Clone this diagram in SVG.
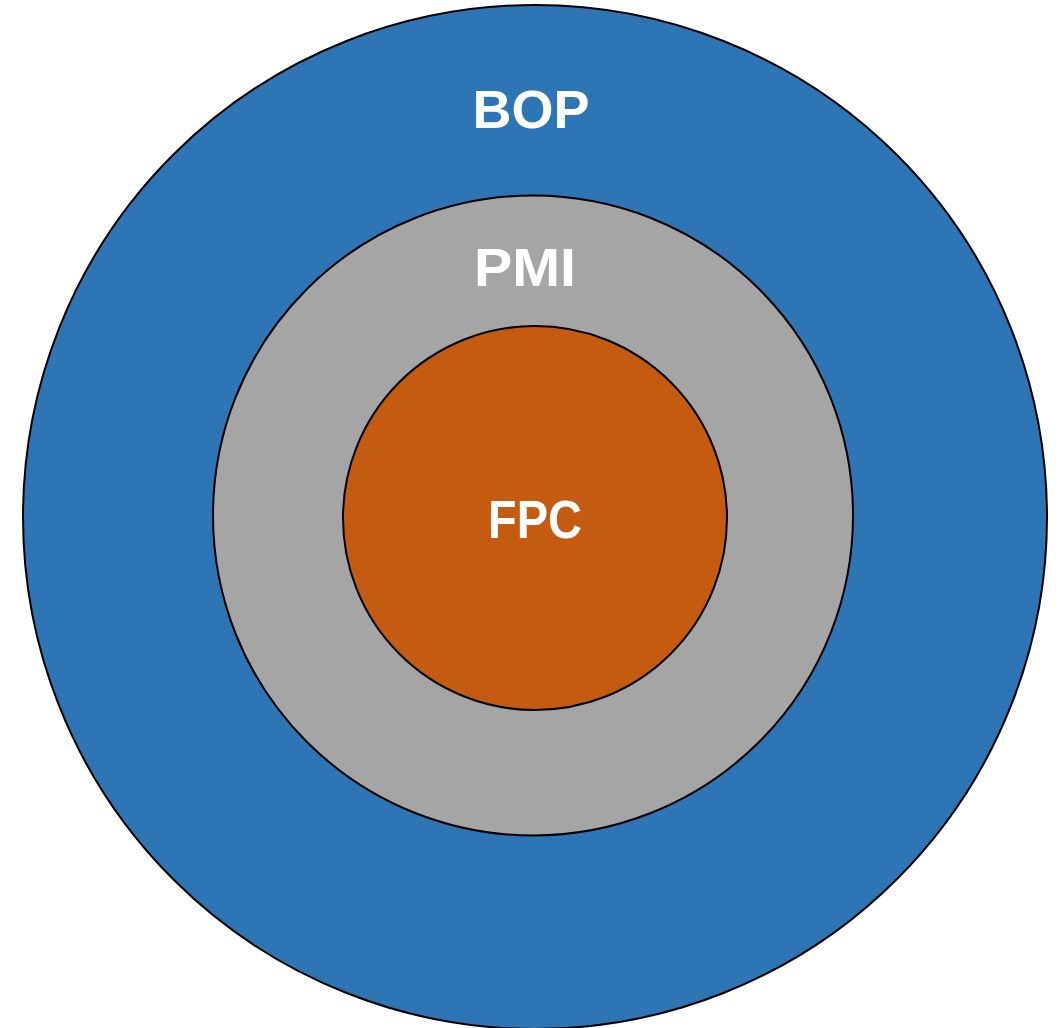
<svg xmlns="http://www.w3.org/2000/svg" width="1060" height="1028" viewBox="0 0 1060 1028">
<style>
.ring{stroke:#000;stroke-width:2}
.lbl{font-family:"Liberation Sans",Arial,sans-serif;font-weight:bold;font-size:54px;fill:#fff;text-anchor:middle}
</style>
<rect width="1060" height="1028" fill="#fff"/>
<g id="bop"><circle class="ring" cx="535" cy="517" r="512" fill="#2E75B6"/><text class="lbl" x="531" y="128">BOP</text></g>
<g id="pmi"><circle class="ring" cx="533" cy="515.5" r="320" fill="#A5A5A5"/><text class="lbl" x="525" y="286" textLength="102" lengthAdjust="spacingAndGlyphs">PMI</text></g>
<g id="fpc"><circle class="ring" cx="535" cy="518" r="192" fill="#C55A11"/><text class="lbl" x="535" y="538" textLength="94" lengthAdjust="spacingAndGlyphs">FPC</text></g>
<g id="connectors"/>
</svg>
